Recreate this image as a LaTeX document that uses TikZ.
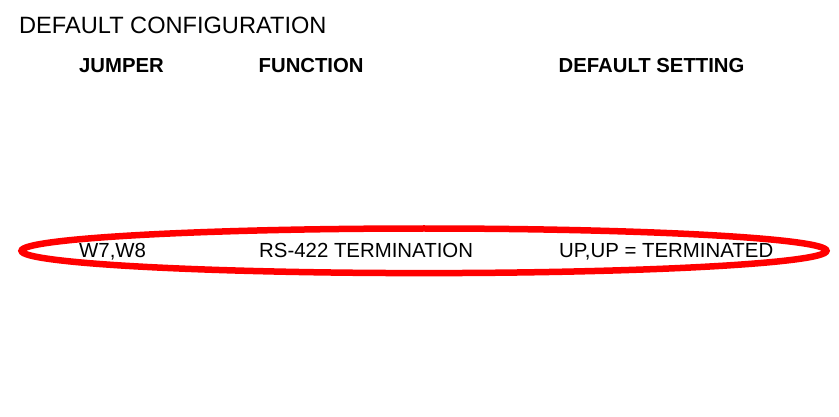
\documentclass[tikz,border=0pt]{standalone}
\usepackage{fontspec}
\setmainfont{Liberation Sans}
\begin{document}
\begin{tikzpicture}[x=1pt,y=-1pt,
  txt/.style={anchor=base west,inner sep=0pt,font=\fontsize{20.4}{24}\selectfont},
  hdr/.style={anchor=base west,inner sep=0pt,font=\fontsize{20.3}{24}\selectfont\bfseries},
  ttl/.style={anchor=base west,inner sep=0pt,font=\fontsize{23.6}{27}\selectfont},
  ring/.style={draw=red,line width=6.5pt}]
\useasboundingbox (0,0) rectangle (839,417);
\node[ttl] (title) at (19,34) {DEFAULT CONFIGURATION};
\node[hdr] (hjump) at (79,73) {JUMPER};
\node[hdr] (hfunc) at (258.5,73) {FUNCTION};
\node[hdr] (hdef) at (558.5,73) {DEFAULT SETTING};
\node[txt] (rjump) at (79,258) {W7,W8};
\node[txt] (rfunc) at (259,258) {RS-422 TERMINATION};
\node[txt] (rdef) at (559,258) {UP,UP = TERMINATED};
\draw[ring] (424,250.8) ellipse [x radius=402.5, y radius=22.3];
\end{tikzpicture}
\end{document}
